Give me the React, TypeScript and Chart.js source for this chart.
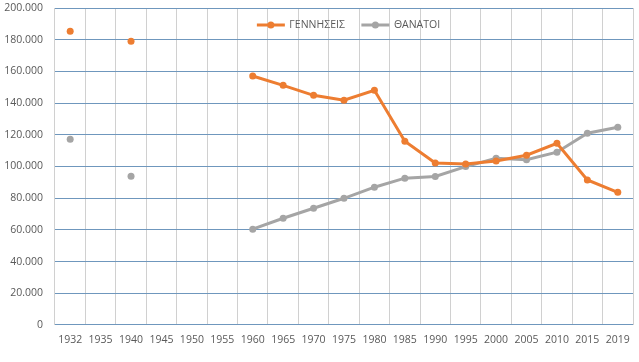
import React, { useEffect, useRef } from "react";
import { Chart, registerables } from "chart.js";

Chart.register(...registerables);

const years = ["1932", "1935", "1940", "1945", "1950", "1955", "1960", "1965", "1970", "1975", "1980", "1985", "1990", "1995", "2000", "2005", "2010", "2015", "2019"];
const births = [185300, null, 179000, null, null, null, 157100, 151200, 144900, 141800, 148100, 115900, 102200, 101600, 103500, 107100, 114600, 91500, 83700];
const deaths = [117200, null, 93800, null, null, null, 60400, 67300, 73600, 79900, 86900, 92600, 93700, 99900, 105200, 104300, 109000, 121000, 124700];
const seriesNames = ["ΓΕΝΝΗΣΕΙΣ", "ΘΑΝΑΤΟΙ"];
const seriesColors = ["#ED7D31", "#A5A5A5"];

const FONT = "'Open Sans', 'Liberation Sans', sans-serif";

function fmt(v: number): string {
  return String(Math.round(v)).replace(/\B(?=(\d{3})+(?!\d))/g, ".");
}

const overlayLegend = {
  id: "overlayLegend",
  afterDatasetsDraw(chart: any) {
    const { ctx, chartArea } = chart;
    ctx.save();
    ctx.font = `10.5px ${FONT}`;
    const lineW = 28;
    const gapText = 4.5;
    const gapItem = 16.5;
    const items = chart.data.datasets.map((ds: any) => ({
      text: ds.label as string,
      color: ds.borderColor as string,
      w: lineW + gapText + ctx.measureText(ds.label).width,
    }));
    const total = items.reduce((s: number, it: any) => s + it.w, 0) + gapItem * (items.length - 1);
    let x = (chartArea.left + chartArea.right) / 2 - total / 2 + 4.5;
    const y = chartArea.top + 17;
    for (const it of items) {
      ctx.strokeStyle = it.color;
      ctx.lineWidth = 3;
      ctx.beginPath();
      ctx.moveTo(x, y);
      ctx.lineTo(x + lineW, y);
      ctx.stroke();
      ctx.fillStyle = it.color;
      ctx.beginPath();
      ctx.arc(x + lineW / 2, y, 3.5, 0, Math.PI * 2);
      ctx.fill();
      ctx.fillStyle = "#595959";
      ctx.textBaseline = "middle";
      ctx.textAlign = "left";
      ctx.fillText(it.text, x + lineW + gapText, y);
      x += it.w + gapItem;
    }
    ctx.restore();
  },
};

export default function App() {
  const ref = useRef<HTMLCanvasElement>(null);
  useEffect(() => {
    const chart = new Chart(ref.current!, {
      type: "line",
      data: {
        labels: years,
        datasets: [
          {
            label: seriesNames[0],
            data: births,
            borderColor: seriesColors[0],
            backgroundColor: seriesColors[0],
            borderWidth: 3,
            pointRadius: 3.5,
            pointHoverRadius: 3.5,
            pointBorderWidth: 0,
            spanGaps: false,
          },
          {
            label: seriesNames[1],
            data: deaths,
            borderColor: seriesColors[1],
            backgroundColor: seriesColors[1],
            borderWidth: 3,
            pointRadius: 3.5,
            pointHoverRadius: 3.5,
            pointBorderWidth: 0,
            spanGaps: false,
          },
        ],
      },
      options: {
        animation: false,
        responsive: true,
        maintainAspectRatio: false,
        layout: { padding: { top: 8, right: 6, left: -7.8, bottom: 6.5 } },
        plugins: {
          tooltip: { enabled: false },
          legend: { display: false },
        },
        scales: {
          x: {
            type: "category",
            offset: true,
            grid: {
              offset: true,
              drawTicks: false,
              color: (c: any) => (c.index === years.length ? "rgba(0,0,0,0)" : "#D0D0D0"),
              lineWidth: 1,
            },
            border: { display: false },
            ticks: {
              color: "#595959",
              font: { family: FONT, size: 10.5 },
              padding: 9,
              maxRotation: 0,
              autoSkip: false,
            },
          },
          y: {
            min: 0,
            max: 200000,
            grid: { color: "#6F97BD", drawTicks: false, lineWidth: 1 },
            border: { display: false },
            afterFit: (s: any) => {
              s.paddingTop = 0;
            },
            ticks: {
              stepSize: 20000,
              color: "#595959",
              font: { family: FONT, size: 10.5 },
              padding: 12,
              callback: (v: any) => fmt(Number(v)),
            },
          },
        },
      },
      plugins: [overlayLegend],
    });
    return () => chart.destroy();
  }, []);
  return (
    <div style={{ position: "absolute", left: 0, top: 0, width: 639, height: 362, background: "#fff" }}>
      <canvas ref={ref} />
    </div>
  );
}
